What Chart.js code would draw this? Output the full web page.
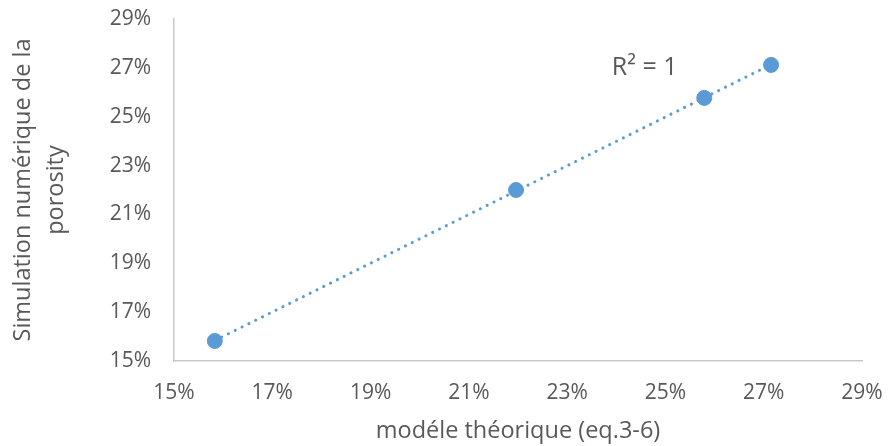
<!DOCTYPE html>
<html>
<head>
<meta charset="utf-8">
<script src="https://cdn.jsdelivr.net/npm/chart.js@4.4.1/dist/chart.umd.min.js"></script>
<style>
  html, body { margin: 0; padding: 0; background: #fff; }
  #wrap { width: 888px; height: 446px; position: relative; }
</style>
</head>
<body>
<div id="wrap"><canvas id="chart"></canvas></div>
<script>
// Porosity: theoretical model vs. numerical simulation
const modelValues = [0.1583, 0.2196, 0.2579, 0.2715];
const simulationValues = [0.1582, 0.2200, 0.2577, 0.2712];
const axisMin = 0.15;
const axisMax = 0.29;
const axisStep = 0.02;
const r2Label = 'R² = 1';

const BLUE = '#5B9BD5';
const TEXT = '#595959';
const FONT = "'Open Sans', sans-serif";

// least squares fit, drawn from min x to max x like a spreadsheet trendline
function linearFit(xs, ys) {
    const n = xs.length;
    const mx = xs.reduce((a, b) => a + b, 0) / n;
    const my = ys.reduce((a, b) => a + b, 0) / n;
    let sxy = 0, sxx = 0;
    for (let i = 0; i < n; i++) {
        sxy += (xs[i] - mx) * (ys[i] - my);
        sxx += (xs[i] - mx) * (xs[i] - mx);
    }
    const slope = sxy / sxx;
    return { slope, intercept: my - slope * mx };
}

const fit = linearFit(modelValues, simulationValues);
const xLo = Math.min(...modelValues);
const xHi = Math.max(...modelValues);
const trendPoints = [
    { x: xLo, y: fit.intercept + fit.slope * xLo },
    { x: xHi, y: fit.intercept + fit.slope * xHi }
];
const points = modelValues.map((x, i) => ({ x, y: simulationValues[i] }));

// R² text anchored in data space
const r2Plugin = {
    id: 'r2Label',
    afterDatasetsDraw(chart) {
        const { ctx, scales } = chart;
        const px = scales.x.getPixelForValue(0.2391);
        const py = scales.y.getPixelForValue(0.2699);
        ctx.save();
        ctx.font = '25px ' + FONT;
        ctx.fillStyle = TEXT;
        ctx.textAlign = 'left';
        ctx.textBaseline = 'middle';
        ctx.fillText(r2Label, px, py);
        ctx.restore();
    }
};

const pctTick = v => Math.round(v * 100) + '%';

new Chart(document.getElementById('chart'), {
    type: 'scatter',
    data: {
        datasets: [
            {
                label: 'trend',
                type: 'line',
                data: trendPoints,
                borderColor: BLUE,
                borderWidth: 3,
                borderDash: [0.1, 7.5],
                borderCapStyle: 'round',
                pointRadius: 0,
                fill: false,
                order: 2
            },
            {
                label: 'porosity',
                data: points,
                backgroundColor: BLUE,
                borderColor: BLUE,
                pointRadius: 7.5,
                order: 1
            }
        ]
    },
    options: {
        responsive: true,
        maintainAspectRatio: false,
        animation: false,
        layout: { padding: { top: 19, right: 26, left: 0, bottom: 0 } },
        plugins: {
            legend: { display: false },
            tooltip: { enabled: false }
        },
        scales: {
            x: {
                type: 'linear',
                min: axisMin,
                max: axisMax,
                grid: { display: false, drawTicks: false },
                border: { display: true, color: '#C8C8C8', width: 1.5 },
                ticks: {
                    stepSize: axisStep,
                    padding: 19,
                    color: TEXT,
                    font: { family: FONT, size: 21 },
                    callback: pctTick
                },
                title: {
                    display: true,
                    text: 'modéle théorique (eq.3-6)',
                    color: TEXT,
                    font: { family: FONT, size: 23.5 },
                    padding: { top: 0, bottom: 1 }
                },
                afterFit(scale) {
                    scale.height = 85;
                    scale.paddingLeft = 0;
                    scale.paddingRight = 0;
                }
            },
            y: {
                type: 'linear',
                min: axisMin,
                max: axisMax,
                grid: { display: false, drawTicks: false },
                border: { display: true, color: '#C8C8C8', width: 1.5 },
                ticks: {
                    stepSize: axisStep,
                    padding: 23,
                    color: TEXT,
                    font: { family: FONT, size: 21 },
                    callback: pctTick
                },
                title: {
                    display: true,
                    text: ['Simulation numérique de la', 'porosity'],
                    color: TEXT,
                    font: { family: FONT, size: 23.5, lineHeight: 1.4 },
                    padding: { top: 7, bottom: 0 }
                },
                afterFit(scale) {
                    scale.width = 174;
                    scale.paddingTop = 0;
                    scale.paddingBottom = 0;
                }
            }
        }
    },
    plugins: [r2Plugin]
});
</script>
</body>
</html>
